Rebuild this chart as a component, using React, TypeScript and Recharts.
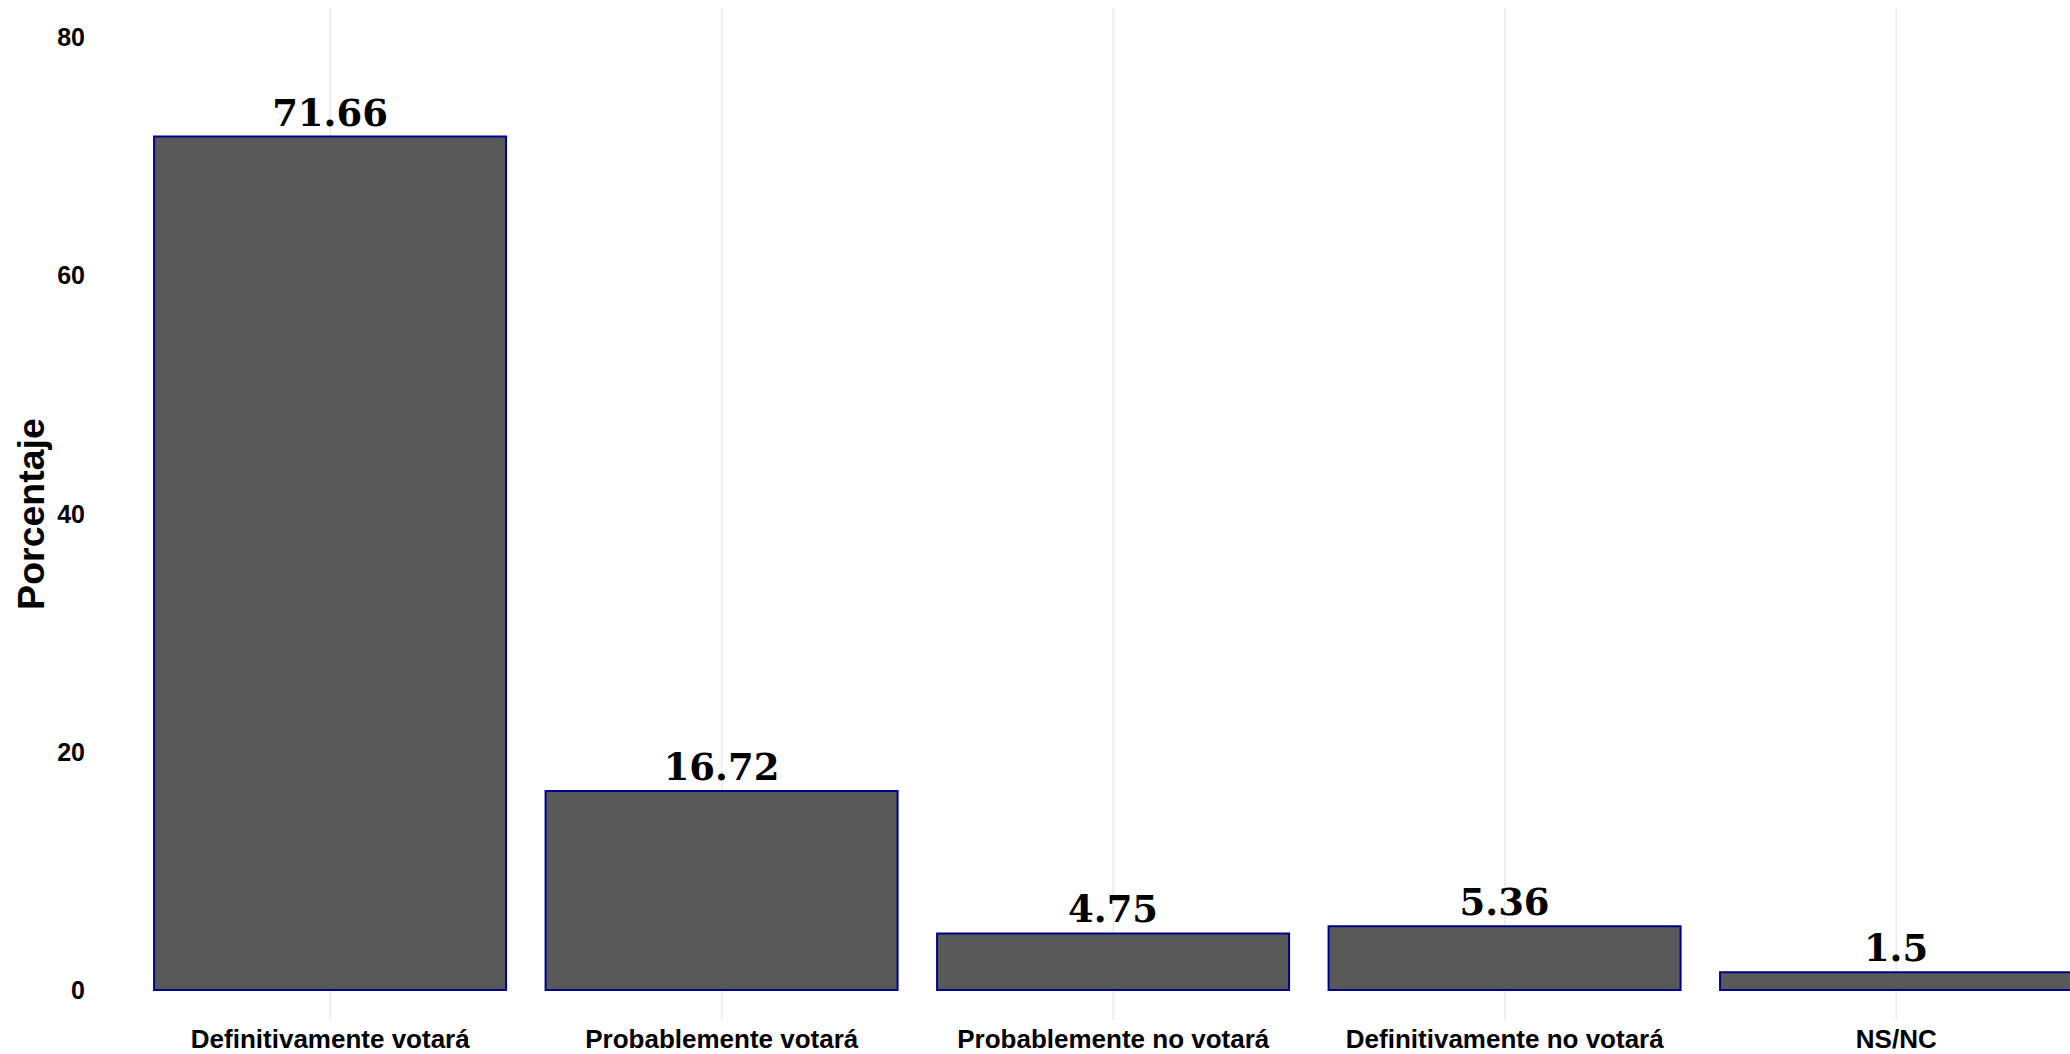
import React from 'react';
import { BarChart, Bar, XAxis, YAxis, CartesianGrid, LabelList, Label } from 'recharts';

const categories = [
  'Definitivamente votará',
  'Probablemente votará',
  'Probablemente no votará',
  'Definitivamente no votará',
  'NS/NC',
];
const porcentajes = [71.66, 16.72, 4.75, 5.36, 1.5];
const yTicks = [0, 20, 40, 60, 80];
const yDomain = [-2.52, 82.46];

const data = categories.map((c, i) => ({ categoria: c, porcentaje: porcentajes[i] }));

const SANS = '"Liberation Sans", Arial, Helvetica, sans-serif';
const SERIF = '"DejaVu Serif", "Liberation Serif", serif';

const verticalGen = (props: any) => {
  const off = props && props.offset;
  if (!off || typeof off.left !== 'number' || typeof off.width !== 'number') return [];
  const band = off.width / categories.length;
  return categories.map((_, i) => off.left + band * (i + 0.5));
};

export default function App() {
  return (
    <div
      style={{
        position: 'absolute',
        left: 0,
        top: 0,
        width: 2070,
        height: 1054,
        overflow: 'hidden',
        background: '#ffffff',
      }}
    >
      <BarChart
        width={2092}
        height={1054}
        data={data}
        margin={{ top: 8, right: 0, bottom: 0, left: 0 }}
        barCategoryGap="5%"
      >
        <CartesianGrid
          horizontal={false}
          vertical={true}
          stroke="#EBEBEB"
          strokeWidth={1.6}
          verticalCoordinatesGenerator={verticalGen}
        />
        <XAxis
          dataKey="categoria"
          type="category"
          height={34}
          tickLine={false}
          axisLine={false}
          tickSize={0}
          tickMargin={10}
          interval={0}
          tick={{ fill: '#000000', fontSize: 26, fontWeight: 'bold', fontFamily: SANS }}
        />
        <YAxis
          type="number"
          domain={yDomain}
          allowDataOverflow={true}
          ticks={yTicks}
          width={134.5}
          tickLine={false}
          axisLine={false}
          tickSize={0}
          tickMargin={49.5}
          tick={{ fill: '#000000', fontSize: 25, fontWeight: 'bold', fontFamily: SANS }}
        >
          <Label
            value="Porcentaje"
            angle={-90}
            position="center"
            dx={-37}
            style={{ fill: '#000000', fontSize: 37.5, fontWeight: 'bold', fontFamily: SANS }}
          />
        </YAxis>
        <Bar
          dataKey="porcentaje"
          fill="#595959"
          stroke="#00008B"
          strokeWidth={2}
          isAnimationActive={false}
        >
          <LabelList
            dataKey="porcentaje"
            position="top"
            offset={11}
            style={{ fill: '#000000', fontSize: 37, fontWeight: 'bold', fontFamily: SERIF }}
          />
        </Bar>
      </BarChart>
    </div>
  );
}
